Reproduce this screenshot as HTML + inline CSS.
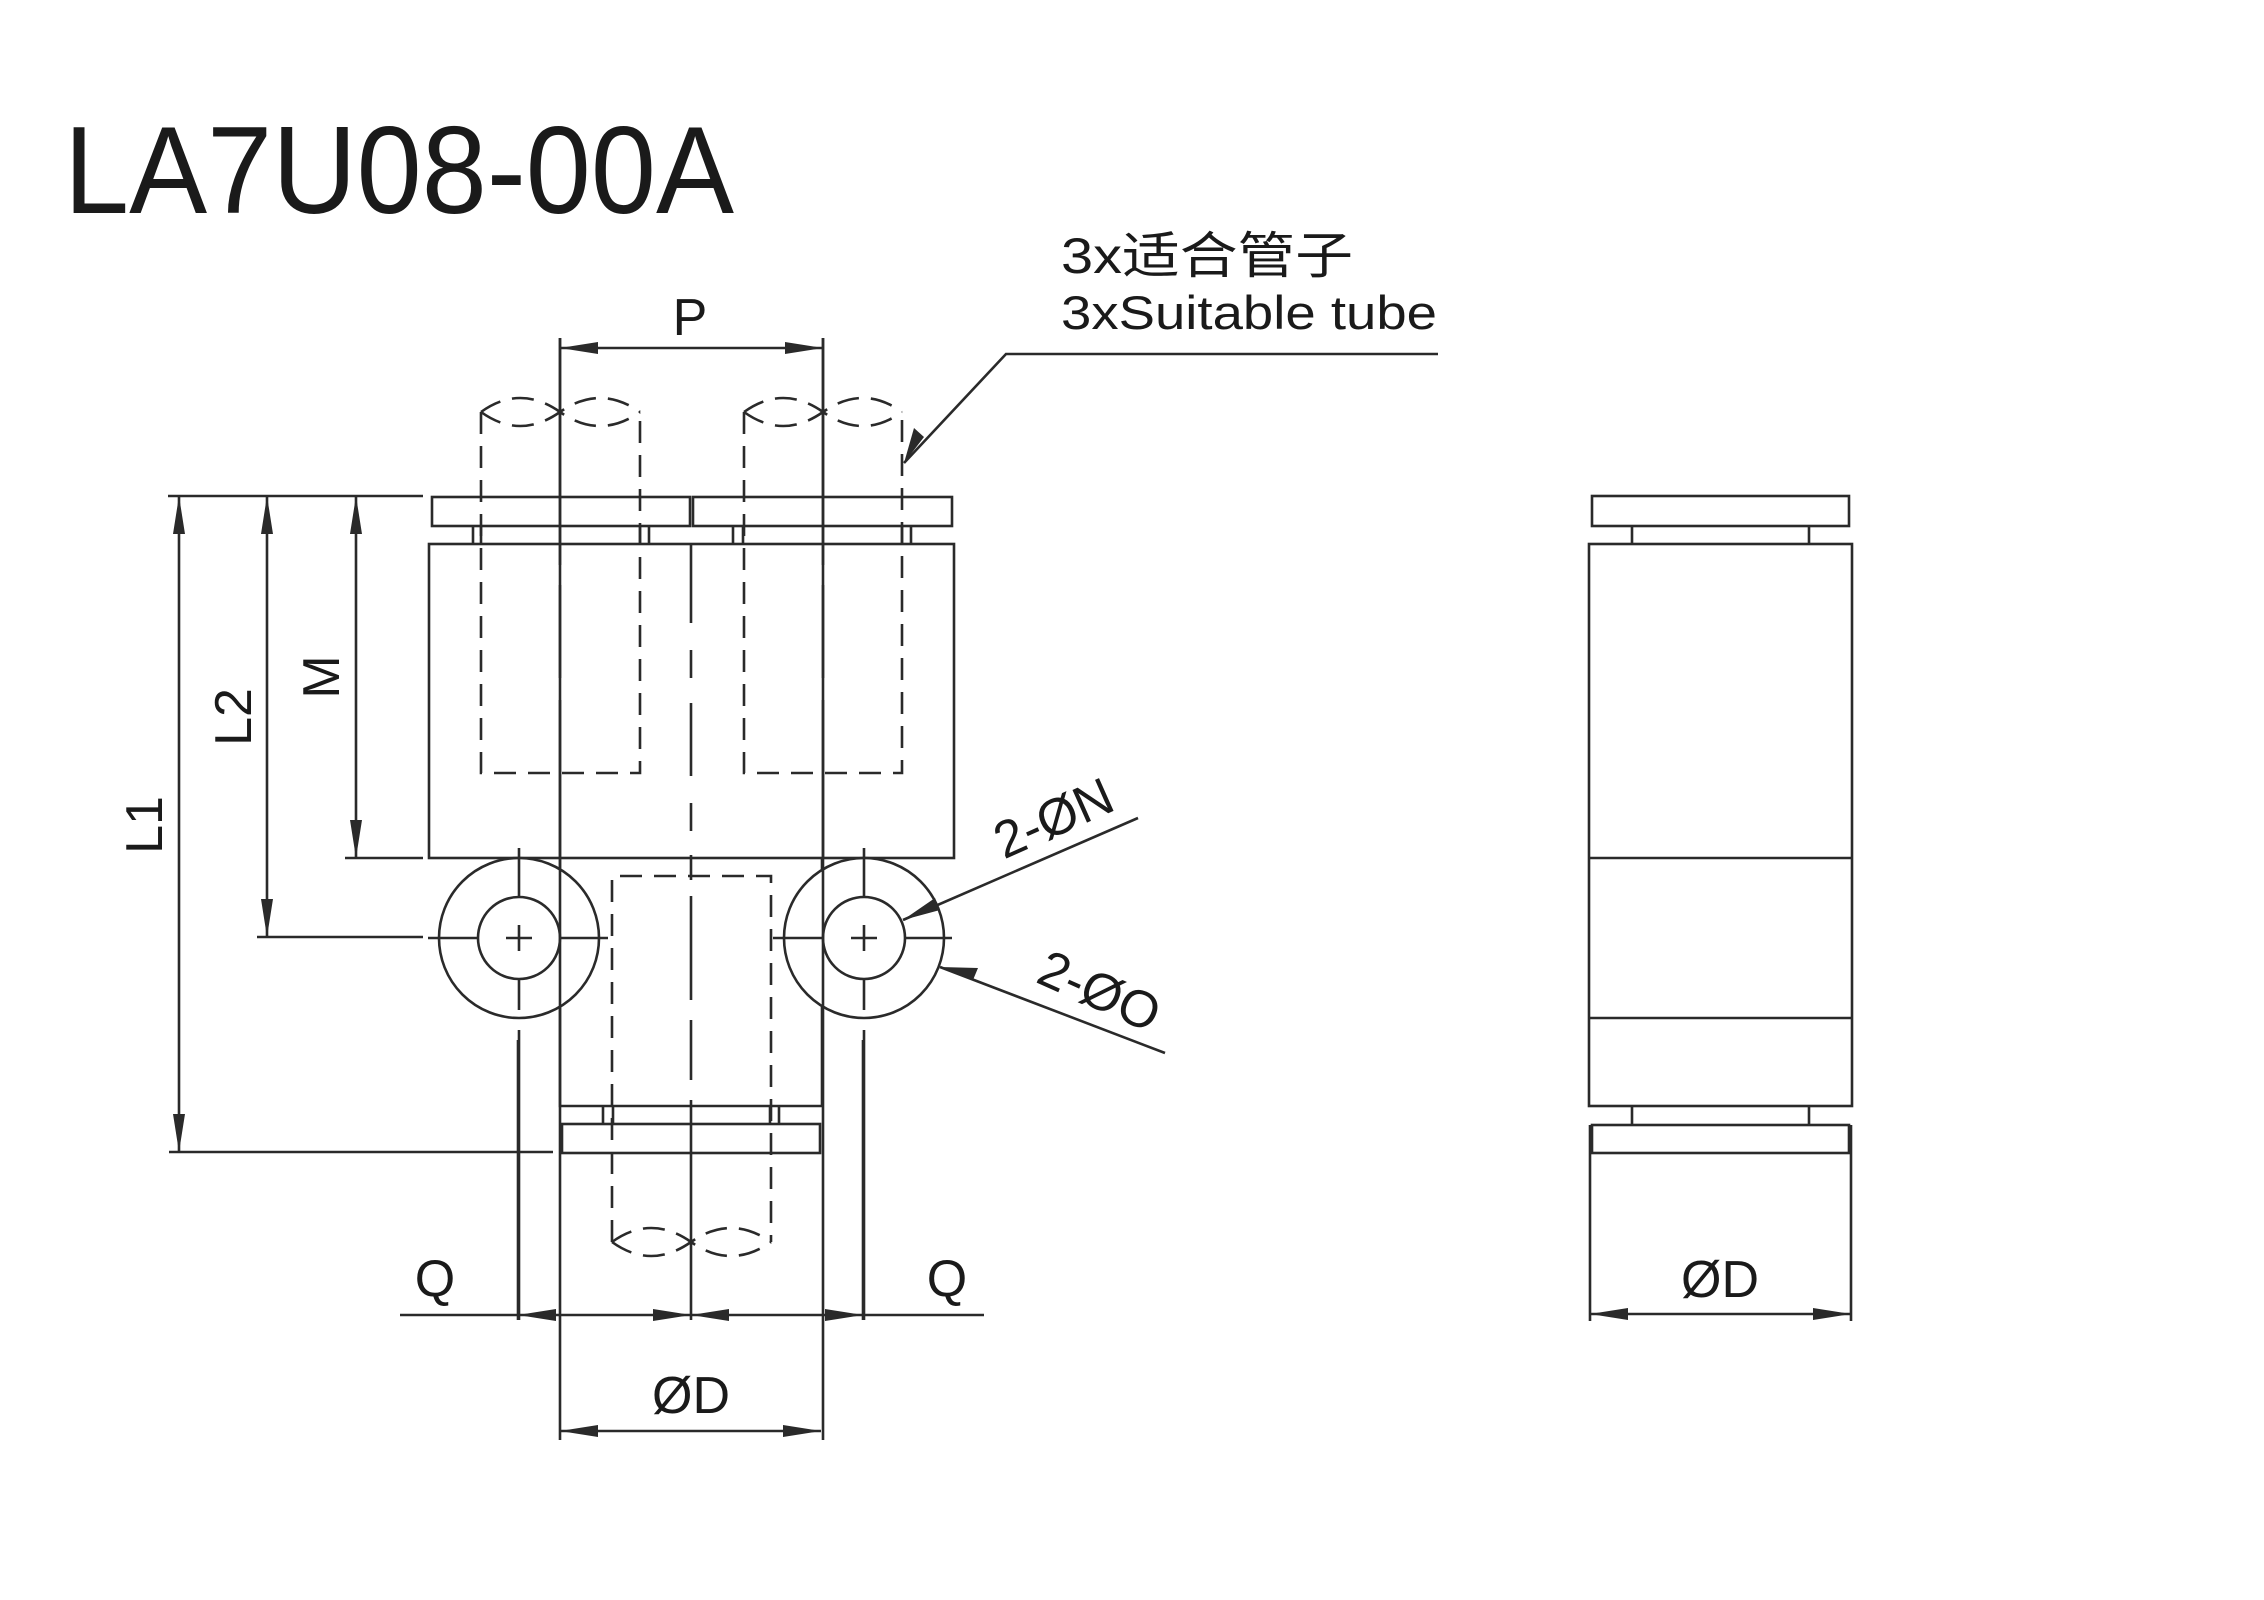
<!DOCTYPE html>
<html><head><meta charset="utf-8"><style>
html,body{margin:0;padding:0;background:#fff;}
svg{display:block;}
text{font-family:"Liberation Sans","Noto Sans CJK SC",sans-serif;fill:#1a1a1a;}
</style></head><body>
<svg width="2264" height="1600" viewBox="0 0 2264 1600" xmlns="http://www.w3.org/2000/svg">
<g fill="none" stroke="#2a2a2a" stroke-width="2.6">
<rect x="432" y="497" width="258" height="29"/>
<rect x="693" y="497" width="259" height="29"/>
<path d="M473 526V544M481 526V544M640 526V544M649 526V544M733 526V544M743 526V544M902 526V544M911 526V544"/>
<rect x="429" y="544" width="525" height="314"/>
<path d="M560 858V1106H822V858"/>
<path d="M603 1106V1124M613 1106V1124M770 1106V1124M779 1106V1124"/>
<rect x="562" y="1124" width="258" height="29"/>
<circle cx="519" cy="938" r="80" fill="#fff"/>
<circle cx="519" cy="938" r="41"/>
<circle cx="864" cy="938" r="80" fill="#fff"/>
<circle cx="864" cy="938" r="41"/>
<path d="M506 938H532M519 925V951M851 938H877M864 925V951"/>
<path d="M428 938H477M561 938H608M773 938H822M906 938H952"/>
<path d="M519 848V896M519 980V1010M519 1030V1320M864 848V896M864 980V1010M864 1030V1320"/>
<path d="M560 338V565M560 585V678M560 700V858M823 338V565M823 585V678M823 700V858"/>
<path d="M691 544V623M691 650V678M691 703V776M691 803V831M691 855V880M691 896V1000M691 1020V1080M691 1100V1320"/>
<g stroke-dasharray="22 12">
<path d="M481 412V773H640V412"/>
<path d="M744 412V773H902V412"/>
<path d="M612 1242V876H771V1242"/>
<path d="M481 412Q520 384 560 412Q600 440 640 412M481 412Q520 440 560 412Q600 384 640 412"/>
<path d="M744 412Q783 384 823 412Q863 440 902 412M744 412Q783 440 823 412Q863 384 902 412"/>
<path d="M612 1242Q651 1214 691 1242Q731 1270 771 1242M612 1242Q651 1270 691 1242Q731 1214 771 1242"/>
</g>
<rect x="1592" y="496" width="257" height="30"/>
<path d="M1632 526V544M1809 526V544M1632 1106V1125M1809 1106V1125"/>
<rect x="1589" y="544" width="263" height="562"/>
<path d="M1589 858H1852M1589 1018H1852"/>
<rect x="1592" y="1125" width="257" height="28"/>
<path d="M1590 1125V1321M1851 1125V1321M1590 1314H1851"/>
<path d="M168 496H423M345 858H423M257 937H423M169 1152H553"/>
<path d="M179 496V1152M267 496V937M356 496V858"/>
<path d="M560 338V1440M823 338V1440M560 348H823"/>
<path d="M518 1040V1320M863 1040V1320M400 1315H984M560 1431H821"/>
<path d="M904 463L1006 354H1438"/>
<path d="M903 920L1138 818"/>
<path d="M940 967L1165 1053"/>
</g>
<g fill="#2a2a2a">
<path d="M179 496l-6 38h12zM179 1152l-6 -38h12z"/>
<path d="M267 496l-6 38h12zM267 937l-6 -38h12z"/>
<path d="M356 496l-6 38h12zM356 858l-6 -38h12z"/>
<path d="M560 348l38 -6v12zM823 348l-38 -6v12z"/>
<path d="M518 1315l38 -6v12zM691 1315l-38 -6v12zM691 1315l38 -6v12zM863 1315l-38 -6v12z"/>
<path d="M560 1431l38 -6v12zM821 1431l-38 -6v12z"/>
<path d="M1590 1314l38 -6v12zM1851 1314l-38 -6v12z"/>
<path d="M904 463l10 -35 10 9z"/>
<path d="M903 920l32 -22 5 12z"/>
<path d="M940 967l38 1 -5 12z"/>
</g>
<text x="64" y="213" font-size="124" textLength="670" lengthAdjust="spacingAndGlyphs">LA7U08-00A</text>
<text x="1061" y="273" font-size="50" textLength="292" lengthAdjust="spacingAndGlyphs">3x适合管子</text>
<text x="1061" y="329" font-size="47" textLength="376" lengthAdjust="spacingAndGlyphs">3xSuitable tube</text>
<g font-size="52" text-anchor="middle">
<text x="690" y="335">P</text>
<text x="435" y="1296">Q</text>
<text x="947" y="1296">Q</text>
<text x="691" y="1413">ØD</text>
<text x="1720" y="1297">ØD</text>
<text transform="translate(143,825) rotate(-90)" y="19">L1</text>
<text transform="translate(232,717) rotate(-90)" y="19">L2</text>
<text transform="translate(320,677) rotate(-90)" y="19">M</text>
<text transform="translate(1053,817) rotate(-24)" y="19">2-ØN</text>
<text transform="translate(1100,990) rotate(24)" y="19">2-ØO</text>
</g>
</svg>
</body></html>
